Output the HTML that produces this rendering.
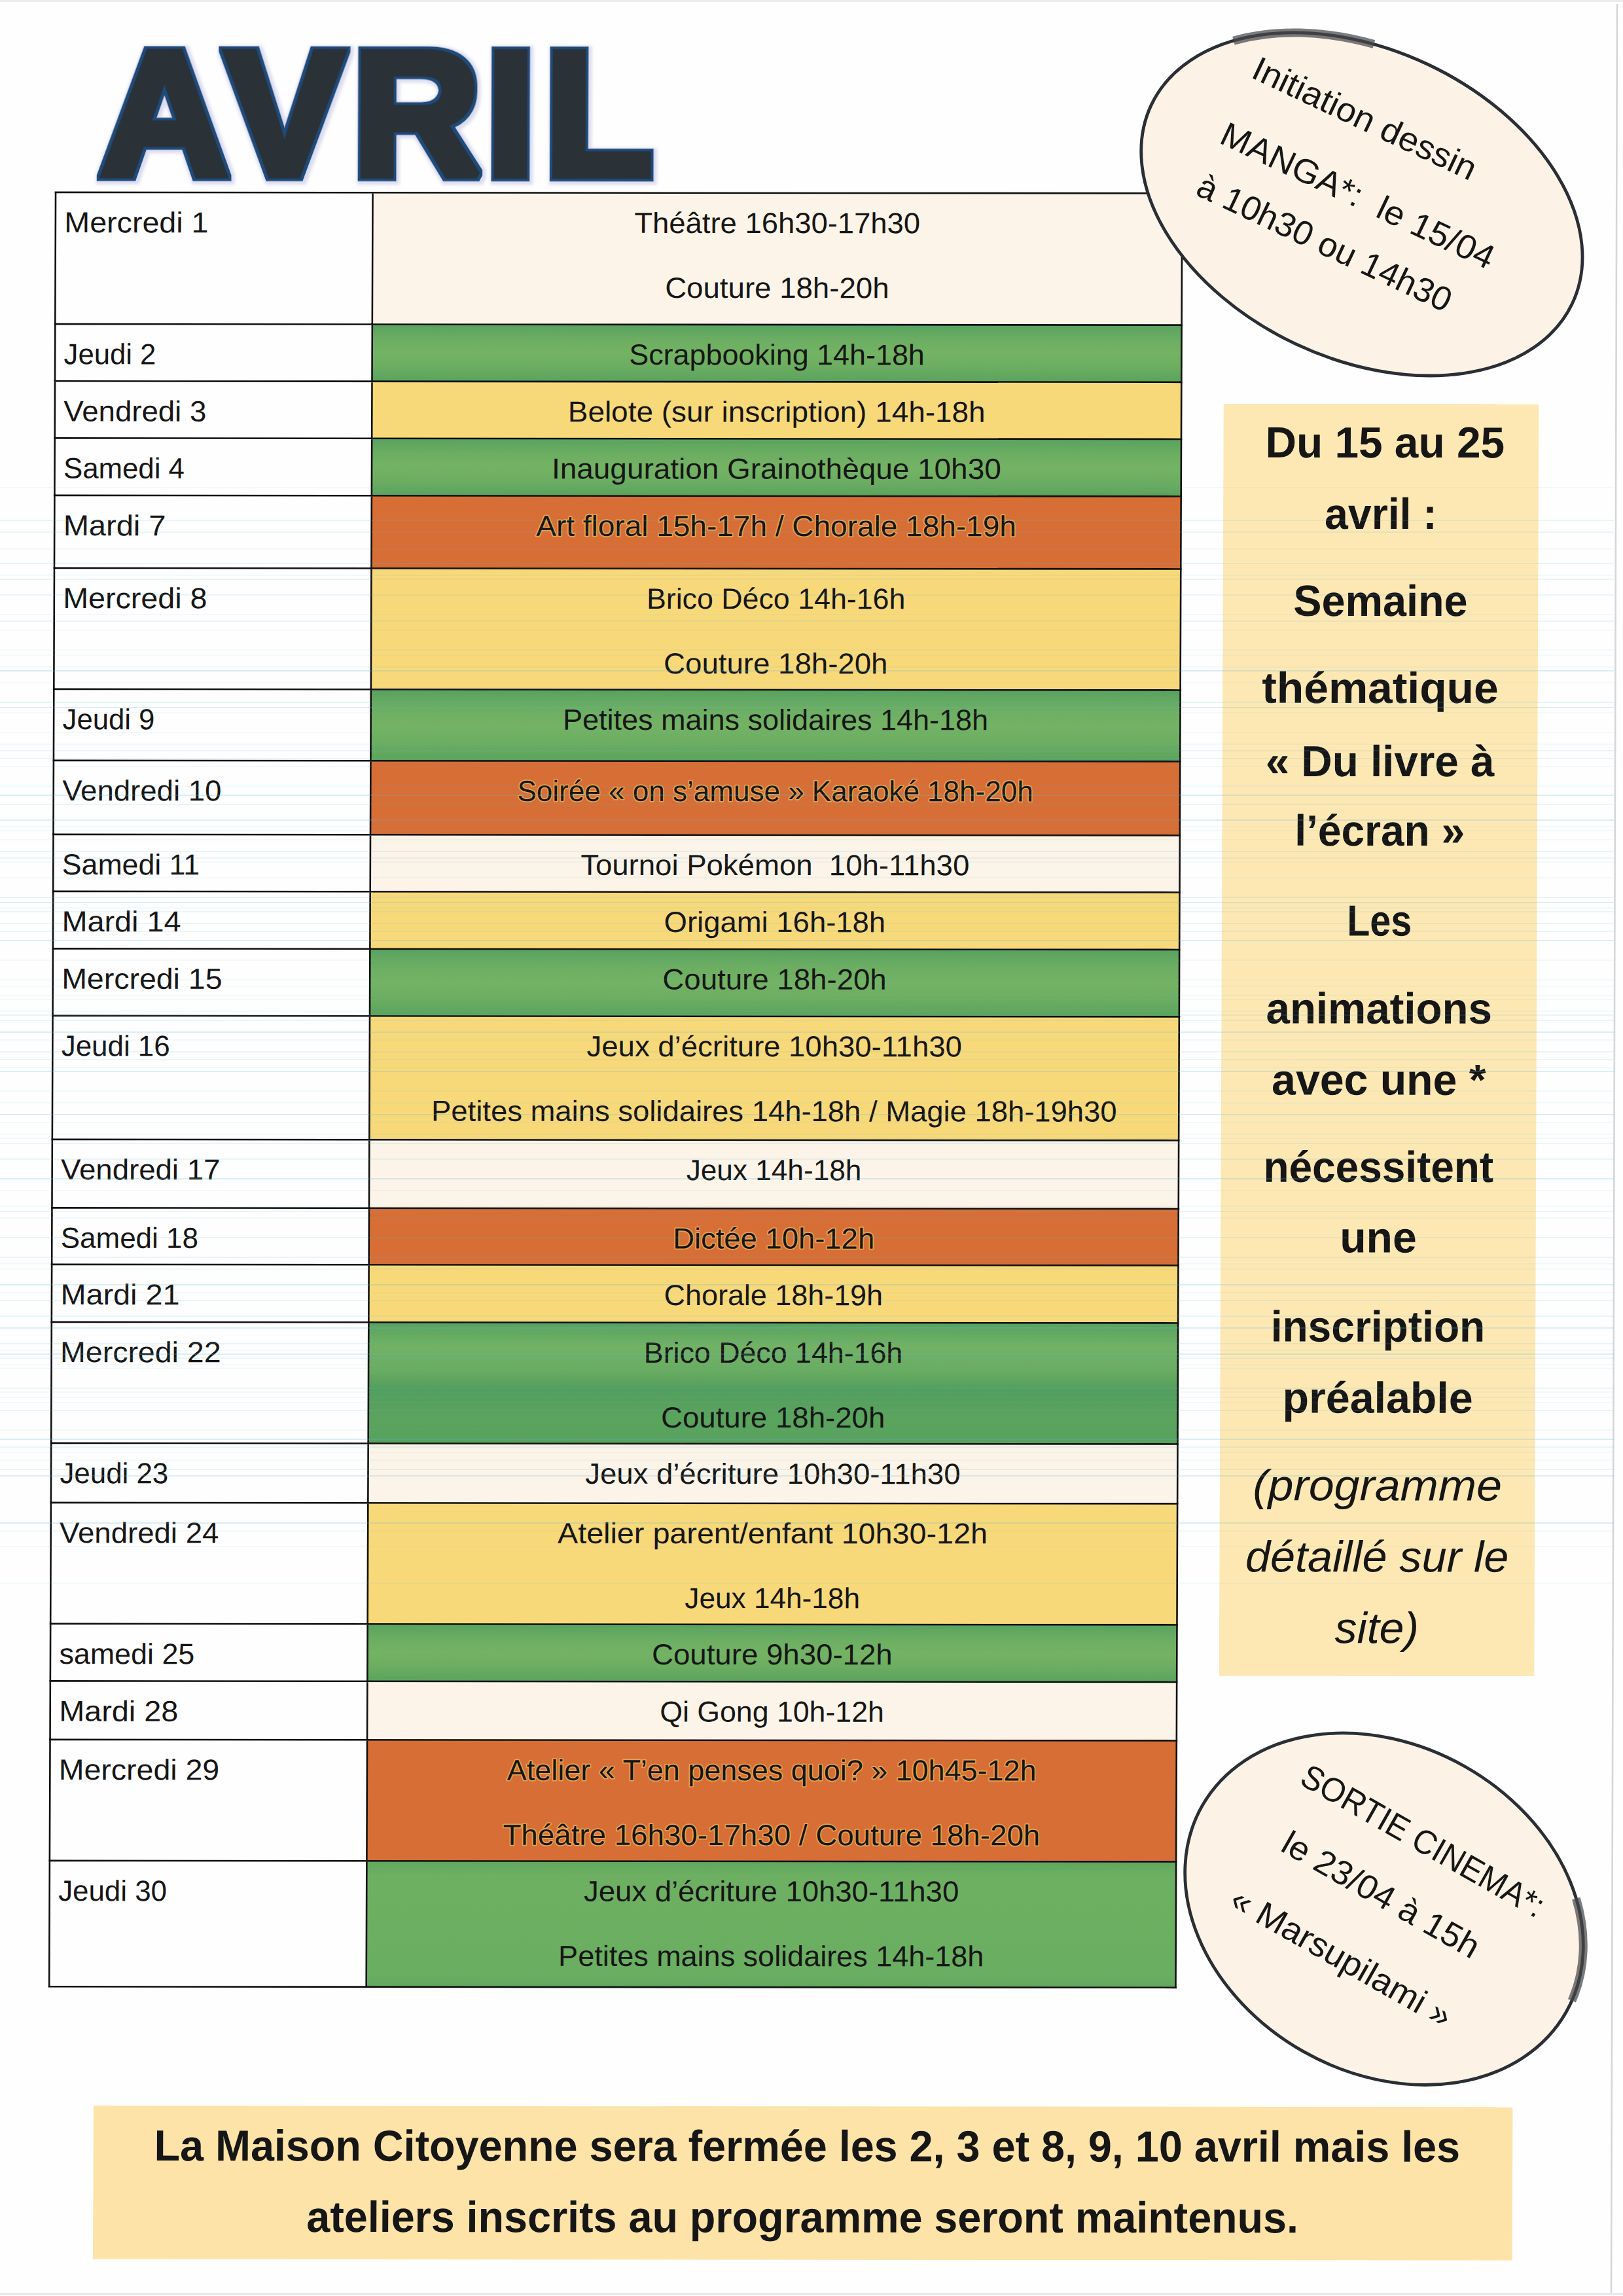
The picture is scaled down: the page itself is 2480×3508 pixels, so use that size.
<!DOCTYPE html>
<html lang="fr"><head><meta charset="utf-8"><title>AVRIL</title>
<style>
html,body{margin:0;padding:0;background:#fefefe}
body{width:2480px;height:3508px;overflow:hidden}
svg{display:block}
text{font-family:"Liberation Sans",sans-serif;fill:#161616;white-space:pre}
.h{paint-order:stroke;stroke:#f2c65c;stroke-opacity:.6;stroke-width:3.5px;stroke-linejoin:round}
.ttl{font-weight:bold;font-size:270.5px;fill:#2b3237;stroke:#2b3237;stroke-width:12px;stroke-linejoin:miter;stroke-miterlimit:2}
</style></head><body>
<svg width="2480" height="3508" viewBox="0 0 2480 3508">
<defs>
<filter id="ol" filterUnits="userSpaceOnUse" x="100" y="20" width="960" height="300">
<feMorphology in="SourceAlpha" operator="dilate" radius="4" result="d1"/>
<feFlood flood-color="#1c4c7c"/><feComposite in2="d1" operator="in" result="blue"/>
<feMorphology in="SourceAlpha" operator="dilate" radius="7" result="d2"/>
<feGaussianBlur in="d2" stdDeviation="2" result="g0"/><feOffset in="g0" dx="1.5" dy="1.5" result="g"/>
<feFlood flood-color="#c3c6e6" flood-opacity=".6"/><feComposite in2="g" operator="in" result="glow"/>
<feMerge><feMergeNode in="glow"/><feMergeNode in="blue"/><feMergeNode in="SourceGraphic"/></feMerge>
</filter>
<linearGradient id="gg" x1="0" y1="0" x2="0" y2="1"><stop offset="0" stop-color="#58a25f"/><stop offset=".25" stop-color="#6bad62"/><stop offset=".5" stop-color="#74b364"/><stop offset=".75" stop-color="#6bad61"/><stop offset="1" stop-color="#5aa35d"/></linearGradient>
<linearGradient id="gg2" x1="0" y1="0" x2="0" y2="1"><stop offset="0" stop-color="#58a25f"/><stop offset=".2" stop-color="#72b264"/><stop offset=".4" stop-color="#69ac61"/><stop offset=".55" stop-color="#539e5d"/><stop offset=".8" stop-color="#5ba45e"/><stop offset="1" stop-color="#57a15c"/></linearGradient>
<linearGradient id="gg3" x1="0" y1="0" x2="0" y2="1"><stop offset="0" stop-color="#5fa75f"/><stop offset=".12" stop-color="#6eb062"/><stop offset=".9" stop-color="#6aae61"/><stop offset="1" stop-color="#60a85e"/></linearGradient>
</defs>
<rect width="2480" height="3508" fill="#fefefe"/>
<path d="M2471 6L2462 3503" stroke="#d6d6da" stroke-width="2.6" fill="none"/>
<path d="M0 3505H2480" stroke="#e6e6e8" stroke-width="3" fill="none"/><path d="M0 1.5H2480" stroke="#ececee" stroke-width="3" fill="none"/>
<g transform="matrix(1 0.0009 -0.0036 1 0 0)">
<text class="ttl" filter="url(#ol)" x="154.2 345.1 539.5 743.3 832.7" y="266.4">AVRIL</text>
<rect x="86.1" y="293.8" width="484.5" height="2741.4" fill="#fefefe"/>
<rect x="570.6" y="293.8" width="1236.8" height="201.2" fill="#fcf4e8"/>
<rect x="570.6" y="495.0" width="1236.8" height="87.2" fill="url(#gg)"/>
<rect x="570.6" y="582.2" width="1236.8" height="87.1" fill="#f8d97a"/>
<rect x="570.6" y="669.3" width="1236.8" height="87.5" fill="url(#gg)"/>
<rect x="570.6" y="756.8" width="1236.8" height="111.0" fill="#d76e36"/>
<rect x="570.6" y="867.8" width="1236.8" height="185.0" fill="#f8d97a"/>
<rect x="570.6" y="1052.8" width="1236.8" height="109.0" fill="url(#gg)"/>
<rect x="570.6" y="1161.8" width="1236.8" height="113.0" fill="#d76e36"/>
<rect x="570.6" y="1274.8" width="1236.8" height="87.0" fill="#fcf4e8"/>
<rect x="570.6" y="1361.8" width="1236.8" height="87.5" fill="#f8d97a"/>
<rect x="570.6" y="1449.3" width="1236.8" height="102.5" fill="url(#gg)"/>
<rect x="570.6" y="1551.8" width="1236.8" height="189.0" fill="#f8d97a"/>
<rect x="570.6" y="1740.8" width="1236.8" height="104.5" fill="#fcf4e8"/>
<rect x="570.6" y="1845.3" width="1236.8" height="86.5" fill="#d76e36"/>
<rect x="570.6" y="1931.8" width="1236.8" height="88.0" fill="#f8d97a"/>
<rect x="570.6" y="2019.8" width="1236.8" height="185.0" fill="url(#gg2)"/>
<rect x="570.6" y="2204.8" width="1236.8" height="91.0" fill="#fcf4e8"/>
<rect x="570.6" y="2295.8" width="1236.8" height="185.0" fill="#f8d97a"/>
<rect x="570.6" y="2480.8" width="1236.8" height="87.5" fill="url(#gg)"/>
<rect x="570.6" y="2568.3" width="1236.8" height="89.5" fill="#fcf4e8"/>
<rect x="570.6" y="2657.8" width="1236.8" height="185.0" fill="#d76e36"/>
<rect x="570.6" y="2842.8" width="1236.8" height="192.4" fill="url(#gg3)"/>
<path d="M84.6 293.8H1808.9M84.6 495.0H1808.9M84.6 582.2H1808.9M84.6 669.3H1808.9M84.6 756.8H1808.9M84.6 867.8H1808.9M84.6 1052.8H1808.9M84.6 1161.8H1808.9M84.6 1274.8H1808.9M84.6 1361.8H1808.9M84.6 1449.3H1808.9M84.6 1551.8H1808.9M84.6 1740.8H1808.9M84.6 1845.3H1808.9M84.6 1931.8H1808.9M84.6 2019.8H1808.9M84.6 2204.8H1808.9M84.6 2295.8H1808.9M84.6 2480.8H1808.9M84.6 2568.3H1808.9M84.6 2657.8H1808.9M84.6 2842.8H1808.9M84.6 3035.2H1808.9M86.1 293.8V3035.2M570.6 293.8V3035.2M1807.4 293.8V3035.2" stroke="#111" stroke-width="2.6" fill="none"/>
<g class="t">
<text x="99.6" y="355.0" font-size="44.35" textLength="220.2" lengthAdjust="spacingAndGlyphs">Mercredi 1</text>
<text x="1189.0" y="355.0" font-size="44.35" textLength="436.7" lengthAdjust="spacingAndGlyphs" text-anchor="middle">Théâtre 16h30-17h30</text>
<text x="1189.0" y="454.0" font-size="44.35" textLength="342.4" lengthAdjust="spacingAndGlyphs" text-anchor="middle">Couture 18h-20h</text>
<text x="99.6" y="556.2" font-size="44.35" textLength="140.6" lengthAdjust="spacingAndGlyphs">Jeudi 2</text>
<text x="1189.0" y="556.2" font-size="44.35" textLength="451.6" lengthAdjust="spacingAndGlyphs" text-anchor="middle">Scrapbooking 14h-18h</text>
<text x="99.6" y="643.4" font-size="44.35" textLength="218.0" lengthAdjust="spacingAndGlyphs">Vendredi 3</text>
<text x="1189.0" y="643.4" font-size="44.35" textLength="637.8" lengthAdjust="spacingAndGlyphs" text-anchor="middle">Belote (sur inscription) 14h-18h</text>
<text x="99.6" y="730.5" font-size="44.35" textLength="185.0" lengthAdjust="spacingAndGlyphs">Samedi 4</text>
<text x="1189.0" y="730.5" font-size="44.35" textLength="686.7" lengthAdjust="spacingAndGlyphs" text-anchor="middle">Inauguration Grainothèque 10h30</text>
<text x="99.6" y="818.0" font-size="44.35" textLength="156.9" lengthAdjust="spacingAndGlyphs">Mardi 7</text>
<text x="1189.0" y="818.0" font-size="44.35" textLength="733.6" lengthAdjust="spacingAndGlyphs" text-anchor="middle" class="h">Art floral 15h-17h / Chorale 18h-19h</text>
<text x="99.6" y="929.0" font-size="44.35" textLength="220.2" lengthAdjust="spacingAndGlyphs">Mercredi 8</text>
<text x="1189.0" y="929.0" font-size="44.35" textLength="395.4" lengthAdjust="spacingAndGlyphs" text-anchor="middle">Brico Déco 14h-16h</text>
<text x="1189.0" y="1028.0" font-size="44.35" textLength="342.4" lengthAdjust="spacingAndGlyphs" text-anchor="middle">Couture 18h-20h</text>
<text x="99.6" y="1114.0" font-size="44.35" textLength="140.6" lengthAdjust="spacingAndGlyphs">Jeudi 9</text>
<text x="1189.0" y="1114.0" font-size="44.35" textLength="650.1" lengthAdjust="spacingAndGlyphs" text-anchor="middle">Petites mains solidaires 14h-18h</text>
<text x="99.6" y="1223.0" font-size="44.35" textLength="243.2" lengthAdjust="spacingAndGlyphs">Vendredi 10</text>
<text x="1189.0" y="1223.0" font-size="44.35" textLength="788.3" lengthAdjust="spacingAndGlyphs" text-anchor="middle" class="h">Soirée « on s’amuse » Karaoké 18h-20h</text>
<text x="99.6" y="1336.0" font-size="44.35" textLength="210.2" lengthAdjust="spacingAndGlyphs">Samedi 11</text>
<text x="1189.0" y="1336.0" font-size="44.35" textLength="594.1" lengthAdjust="spacingAndGlyphs" text-anchor="middle">Tournoi Pokémon  10h-11h30</text>
<text x="99.6" y="1423.0" font-size="44.35" textLength="182.1" lengthAdjust="spacingAndGlyphs">Mardi 14</text>
<text x="1189.0" y="1423.0" font-size="44.35" textLength="338.5" lengthAdjust="spacingAndGlyphs" text-anchor="middle">Origami 16h-18h</text>
<text x="99.6" y="1510.5" font-size="44.35" textLength="245.4" lengthAdjust="spacingAndGlyphs">Mercredi 15</text>
<text x="1189.0" y="1510.5" font-size="44.35" textLength="342.4" lengthAdjust="spacingAndGlyphs" text-anchor="middle">Couture 18h-20h</text>
<text x="99.6" y="1613.0" font-size="44.35" textLength="165.8" lengthAdjust="spacingAndGlyphs">Jeudi 16</text>
<text x="1189.0" y="1613.0" font-size="44.35" textLength="573.3" lengthAdjust="spacingAndGlyphs" text-anchor="middle">Jeux d’écriture 10h30-11h30</text>
<text x="1189.0" y="1712.0" font-size="44.35" textLength="1047.5" lengthAdjust="spacingAndGlyphs" text-anchor="middle">Petites mains solidaires 14h-18h / Magie 18h-19h30</text>
<text x="99.6" y="1802.0" font-size="44.35" textLength="243.2" lengthAdjust="spacingAndGlyphs">Vendredi 17</text>
<text x="1189.0" y="1802.0" font-size="44.35" textLength="267.7" lengthAdjust="spacingAndGlyphs" text-anchor="middle">Jeux 14h-18h</text>
<text x="99.6" y="1906.5" font-size="44.35" textLength="210.2" lengthAdjust="spacingAndGlyphs">Samedi 18</text>
<text x="1189.0" y="1906.5" font-size="44.35" textLength="308.0" lengthAdjust="spacingAndGlyphs" text-anchor="middle" class="h">Dictée 10h-12h</text>
<text x="99.6" y="1993.0" font-size="44.35" textLength="182.1" lengthAdjust="spacingAndGlyphs">Mardi 21</text>
<text x="1189.0" y="1993.0" font-size="44.35" textLength="334.5" lengthAdjust="spacingAndGlyphs" text-anchor="middle">Chorale 18h-19h</text>
<text x="99.6" y="2081.0" font-size="44.35" textLength="245.4" lengthAdjust="spacingAndGlyphs">Mercredi 22</text>
<text x="1189.0" y="2081.0" font-size="44.35" textLength="395.4" lengthAdjust="spacingAndGlyphs" text-anchor="middle">Brico Déco 14h-16h</text>
<text x="1189.0" y="2180.0" font-size="44.35" textLength="342.4" lengthAdjust="spacingAndGlyphs" text-anchor="middle">Couture 18h-20h</text>
<text x="99.6" y="2266.0" font-size="44.35" textLength="165.8" lengthAdjust="spacingAndGlyphs">Jeudi 23</text>
<text x="1189.0" y="2266.0" font-size="44.35" textLength="573.3" lengthAdjust="spacingAndGlyphs" text-anchor="middle">Jeux d’écriture 10h30-11h30</text>
<text x="99.6" y="2357.0" font-size="44.35" textLength="243.2" lengthAdjust="spacingAndGlyphs">Vendredi 24</text>
<text x="1189.0" y="2357.0" font-size="44.35" textLength="657.0" lengthAdjust="spacingAndGlyphs" text-anchor="middle">Atelier parent/enfant 10h30-12h</text>
<text x="1189.0" y="2456.0" font-size="44.35" textLength="267.7" lengthAdjust="spacingAndGlyphs" text-anchor="middle">Jeux 14h-18h</text>
<text x="99.6" y="2542.0" font-size="44.35" textLength="206.8" lengthAdjust="spacingAndGlyphs">samedi 25</text>
<text x="1189.0" y="2542.0" font-size="44.35" textLength="367.6" lengthAdjust="spacingAndGlyphs" text-anchor="middle">Couture 9h30-12h</text>
<text x="99.6" y="2629.5" font-size="44.35" textLength="182.1" lengthAdjust="spacingAndGlyphs">Mardi 28</text>
<text x="1189.0" y="2629.5" font-size="44.35" textLength="342.6" lengthAdjust="spacingAndGlyphs" text-anchor="middle">Qi Gong 10h-12h</text>
<text x="99.6" y="2719.0" font-size="44.35" textLength="245.4" lengthAdjust="spacingAndGlyphs">Mercredi 29</text>
<text x="1189.0" y="2719.0" font-size="44.35" textLength="808.7" lengthAdjust="spacingAndGlyphs" text-anchor="middle" class="h">Atelier « T’en penses quoi? » 10h45-12h</text>
<text x="1189.0" y="2818.0" font-size="44.35" textLength="820.8" lengthAdjust="spacingAndGlyphs" text-anchor="middle" class="h">Théâtre 16h30-17h30 / Couture 18h-20h</text>
<text x="99.6" y="2904.0" font-size="44.35" textLength="165.8" lengthAdjust="spacingAndGlyphs">Jeudi 30</text>
<text x="1189.0" y="2904.0" font-size="44.35" textLength="573.3" lengthAdjust="spacingAndGlyphs" text-anchor="middle">Jeux d’écriture 10h30-11h30</text>
<text x="1189.0" y="3003.0" font-size="44.35" textLength="650.1" lengthAdjust="spacingAndGlyphs" text-anchor="middle">Petites mains solidaires 14h-18h</text>
</g>
<rect x="1872.0" y="615.2" width="481.5" height="1943.8" fill="#fde8b4"/>
<text x="2118.8" y="697.1" font-size="66.53" textLength="365.5" lengthAdjust="spacingAndGlyphs" text-anchor="middle" font-weight="bold">Du 15 au 25</text>
<text x="2112.8" y="806.1" font-size="66.53" textLength="171.6" lengthAdjust="spacingAndGlyphs" text-anchor="middle" font-weight="bold">avril :</text>
<text x="2112.8" y="939.1" font-size="66.53" textLength="266.1" lengthAdjust="spacingAndGlyphs" text-anchor="middle" font-weight="bold">Semaine</text>
<text x="2112.8" y="1072.1" font-size="66.53" textLength="361.3" lengthAdjust="spacingAndGlyphs" text-anchor="middle" font-weight="bold">thématique</text>
<text x="2112.8" y="1184.1" font-size="66.53" textLength="349.6" lengthAdjust="spacingAndGlyphs" text-anchor="middle" font-weight="bold">« Du livre à</text>
<text x="2112.8" y="1290.1" font-size="66.53" textLength="260.0" lengthAdjust="spacingAndGlyphs" text-anchor="middle" font-weight="bold">l’écran »</text>
<text x="2112.8" y="1427.7" font-size="66.53" textLength="98.8" lengthAdjust="spacingAndGlyphs" text-anchor="middle" font-weight="bold">Les</text>
<text x="2112.8" y="1561.8" font-size="66.53" textLength="345.3" lengthAdjust="spacingAndGlyphs" text-anchor="middle" font-weight="bold">animations</text>
<text x="2112.8" y="1670.7" font-size="66.53" textLength="327.4" lengthAdjust="spacingAndGlyphs" text-anchor="middle" font-weight="bold">avec une *</text>
<text x="2112.8" y="1803.9" font-size="66.53" textLength="351.7" lengthAdjust="spacingAndGlyphs" text-anchor="middle" font-weight="bold">nécessitent</text>
<text x="2112.8" y="1911.6" font-size="66.53" textLength="117.5" lengthAdjust="spacingAndGlyphs" text-anchor="middle" font-weight="bold">une</text>
<text x="2112.8" y="2047.8" font-size="66.53" textLength="327.5" lengthAdjust="spacingAndGlyphs" text-anchor="middle" font-weight="bold">inscription</text>
<text x="2112.8" y="2156.7" font-size="66.53" textLength="291.0" lengthAdjust="spacingAndGlyphs" text-anchor="middle" font-weight="bold">préalable</text>
<text x="2112.8" y="2290.5" font-size="66.53" textLength="380.5" lengthAdjust="spacingAndGlyphs" text-anchor="middle" font-style="italic">(programme</text>
<text x="2112.8" y="2399.5" font-size="66.53" textLength="402.1" lengthAdjust="spacingAndGlyphs" text-anchor="middle" font-style="italic">détaillé sur le</text>
<text x="2112.8" y="2508.4" font-size="66.53" textLength="128.5" lengthAdjust="spacingAndGlyphs" text-anchor="middle" font-style="italic">site)</text>
<g transform="translate(2082.0 310.1) rotate(25.2)">
<ellipse rx="356" ry="236" fill="#fcf3e6" stroke="#2a2f35" stroke-width="4.8"/>
<path d="M-284.4 -142.0A356 236 0 0 1 -88.1 -228.7" fill="none" stroke="rgba(70,72,75,.72)" stroke-width="13" stroke-linecap="butt"/>
<text x="-52.0" y="-102.5" font-size="51.74" textLength="372.8" lengthAdjust="spacingAndGlyphs" text-anchor="middle">Initiation dessin</text>
<text x="-11.0" y="8.5" font-size="51.74" textLength="456.5" lengthAdjust="spacingAndGlyphs" text-anchor="middle">MANGA*:  le 15/04</text>
<text x="-26.0" y="95.5" font-size="51.74" textLength="424.2" lengthAdjust="spacingAndGlyphs" text-anchor="middle">à 10h30 ou 14h30</text>
</g>
<g transform="translate(2125.5 2914.8) rotate(29.5)">
<ellipse rx="320" ry="250" fill="#fcf3e6" stroke="#2a2f35" stroke-width="4.8"/>
<path d="M247.2 -158.7A320 250 0 0 1 319.0 -19.6" fill="none" stroke="rgba(70,72,75,.72)" stroke-width="13" stroke-linecap="butt"/>
<text x="0.0" y="-102.0" font-size="51.74" textLength="419.0" lengthAdjust="spacingAndGlyphs" text-anchor="middle">SORTIE CINEMA*:</text>
<text x="-15.0" y="1.0" font-size="51.74" textLength="338.4" lengthAdjust="spacingAndGlyphs" text-anchor="middle">le 23/04 à 15h</text>
<text x="-20.0" y="114.0" font-size="51.74" textLength="379.8" lengthAdjust="spacingAndGlyphs" text-anchor="middle">« Marsupilami »</text>
</g>
<rect x="154.5" y="3217.2" width="2168.5" height="234.3" fill="#fde3a7"/>
<text x="1245.2" y="3300.9" font-size="66.53" textLength="1995.5" lengthAdjust="spacingAndGlyphs" text-anchor="middle" font-weight="bold">La Maison Citoyenne sera fermée les 2, 3 et 8, 9, 10 avril mais les</text>
<text x="1238.4" y="3409.5" font-size="66.53" textLength="1515.6" lengthAdjust="spacingAndGlyphs" text-anchor="middle" font-weight="bold">ateliers inscrits au programme seront maintenus.</text>
</g>
<path d="M0 745H2466M0 839H2466M0 879H2466M0 939H2466M0 963H2466M0 993H2466M0 1001H2466M0 1019H2466M0 1043H2466M0 1089H2466M0 1119H2466M0 1137H2466M0 1171H2466M0 1201H2466M0 1263H2466M0 1269H2466M0 1283H2466M0 1317H2466M0 1341H2466M0 1387H2466M0 1467H2466M0 1497H2466M0 1507H2466M0 1521H2466M0 1527H2466M0 1545H2466M0 1589H2466M0 1631H2466M0 1667H2466M0 1685H2466M0 1715H2466M0 1733H2466M0 1739H2466M0 1819H2466M0 1843H2466M0 1861H2466M0 1931H2466M0 1939H2466M0 1975H2466M0 2063H2466M0 2085H2466M0 2091H2466M0 2127H2466M0 2135H2466M0 2143H2466M0 2185H2466M0 2219H2466M0 2231H2466M0 2339H2466M0 2363H2466M0 2419H2466" stroke="#5fbcd6" stroke-opacity="0.1" stroke-width="1.6" fill="none"/>
<path d="M0 795H2466M0 813H2466M0 861H2466M0 885H2466M0 909H2466M0 949H2466M0 1073H2466M0 1147H2466M0 1159H2466M0 1229H2466M0 1301H2466M0 1311H2466M0 1371H2466M0 1393H2466M0 1411H2466M0 1423H2466M0 1551H2466M0 1559H2466M0 1607H2466M0 1619H2466M0 1747H2466M0 1771H2466M0 1851H2466M0 1891H2466M0 1921H2466M0 1987H2466M0 2011H2466M0 2053H2466M0 2075H2466M0 2121H2466M0 2155H2466M0 2211H2466M0 2245H2466" stroke="#5fbcd6" stroke-opacity="0.18" stroke-width="1.6" fill="none"/>
<path d="M0 1025H2466M0 1081H2466M0 1215H2466M0 1253H2466M0 1379H2466M0 1437H2466M0 1577H2466M0 1637H2466M0 1703H2466M0 1801H2466M0 1963H2466M0 2029H2466M0 2069H2466M0 2199H2466M0 2255H2466M0 2327H2466" stroke="#5fbcd6" stroke-opacity="0.3" stroke-width="1.6" fill="none"/>
</svg>
</body></html>
